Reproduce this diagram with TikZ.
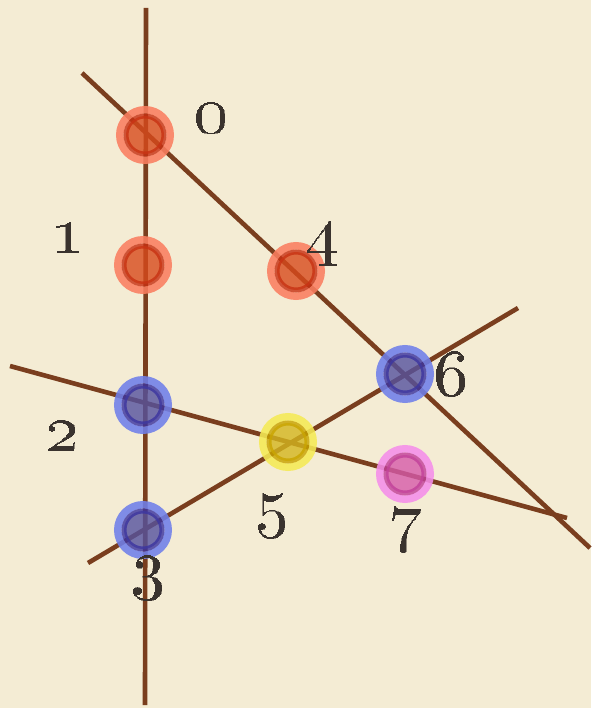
\documentclass[tikz,border=0pt]{standalone}
\definecolor{bg}{HTML}{F4ECD4}
\definecolor{linebrown}{HTML}{7A3E1E}
\definecolor{labelcol}{HTML}{3A332E}
\definecolor{redband}{HTML}{FA7E60}
\definecolor{redring}{HTML}{C83214}
\definecolor{redin}{HTML}{D84A1C}
\definecolor{blueband}{HTML}{6F7FEA}
\definecolor{bluering}{HTML}{3C35A0}
\definecolor{bluein}{HTML}{55529F}
\definecolor{yelband}{HTML}{F5EA55}
\definecolor{yelring}{HTML}{C9A400}
\definecolor{yelin}{HTML}{D4B61E}
\definecolor{pinkband}{HTML}{F58EEA}
\definecolor{pinkring}{HTML}{C2419A}
\definecolor{pinkin}{HTML}{D65AAA}
\newcommand{\digit}[1]{\fontsize{10}{12}\selectfont\bfseries\oldstylenums{#1}}
\begin{document}
\begin{tikzpicture}[x=1pt,y=-1pt,
  seg/.style={draw=linebrown,line width=4.6pt},
  band/.style={circle,inner sep=0pt,minimum size=50.5pt,line width=7.5pt,draw=#1,draw opacity=0.88},
  core/.style n args={2}{circle,inner sep=0pt,minimum size=38pt,line width=5pt,draw=#1,fill=#2,draw opacity=0.82,fill opacity=0.8},
  lbl/.style={text=labelcol,scale=6.8,anchor=base,inner sep=0pt}
]
\fill[bg] (0,0) rectangle (591,708);
\useasboundingbox (0,0) rectangle (591,708);
% line end points
\coordinate (vt) at (146,8);
\coordinate (vb) at (145,705);
\coordinate (da) at (82,73);
\coordinate (db) at (590,548);
\coordinate (ha) at (10,366);
\coordinate (hb) at (567,518);
\coordinate (ra) at (88,563);
\coordinate (rb) at (518,308);
\draw[seg] (vt) -- (vb);
\draw[seg] (da) -- (db);
\draw[seg] (ha) -- (hb);
\draw[seg] (ra) -- (rb);
% spots
\node[band=redband] (b0) at (145,135) {};
\node[core={redring}{redin}] (c0) at (b0) {};
\node[band=redband] (b1) at (143,265) {};
\node[core={redring}{redin}] (c1) at (b1) {};
\node[band=redband] (b4) at (296,271) {};
\node[core={redring}{redin}] (c4) at (b4) {};
\node[band=blueband] (b2) at (143,405) {};
\node[core={bluering}{bluein}] (c2) at (b2) {};
\node[band=blueband] (b3) at (143,530) {};
\node[core={bluering}{bluein}] (c3) at (b3) {};
\node[band=blueband] (b6) at (405,374) {};
\node[core={bluering}{bluein}] (c6) at (b6) {};
\node[band=yelband] (b5) at (288,442) {};
\node[core={yelring}{yelin}] (c5) at (b5) {};
\node[band=pinkband] (b7) at (405,474) {};
\node[core={pinkring}{pinkin}] (c7) at (b7) {};
% labels
\node[lbl] (l0) at (211,133) {\digit{0}};
\node[lbl] (l1) at (67,253) {\digit{1}};
\node[lbl] (l2) at (62,450) {\digit{2}};
\node[lbl] (l3) at (148,585) {\digit{3}};
\node[lbl] (l4) at (322,253) {\digit{4}};
\node[lbl] (l5) at (272,523) {\digit{5}};
\node[lbl] (l6) at (451,395) {\digit{6}};
\node[lbl] (l7) at (405,537) {\digit{7}};
\end{tikzpicture}
\end{document}
